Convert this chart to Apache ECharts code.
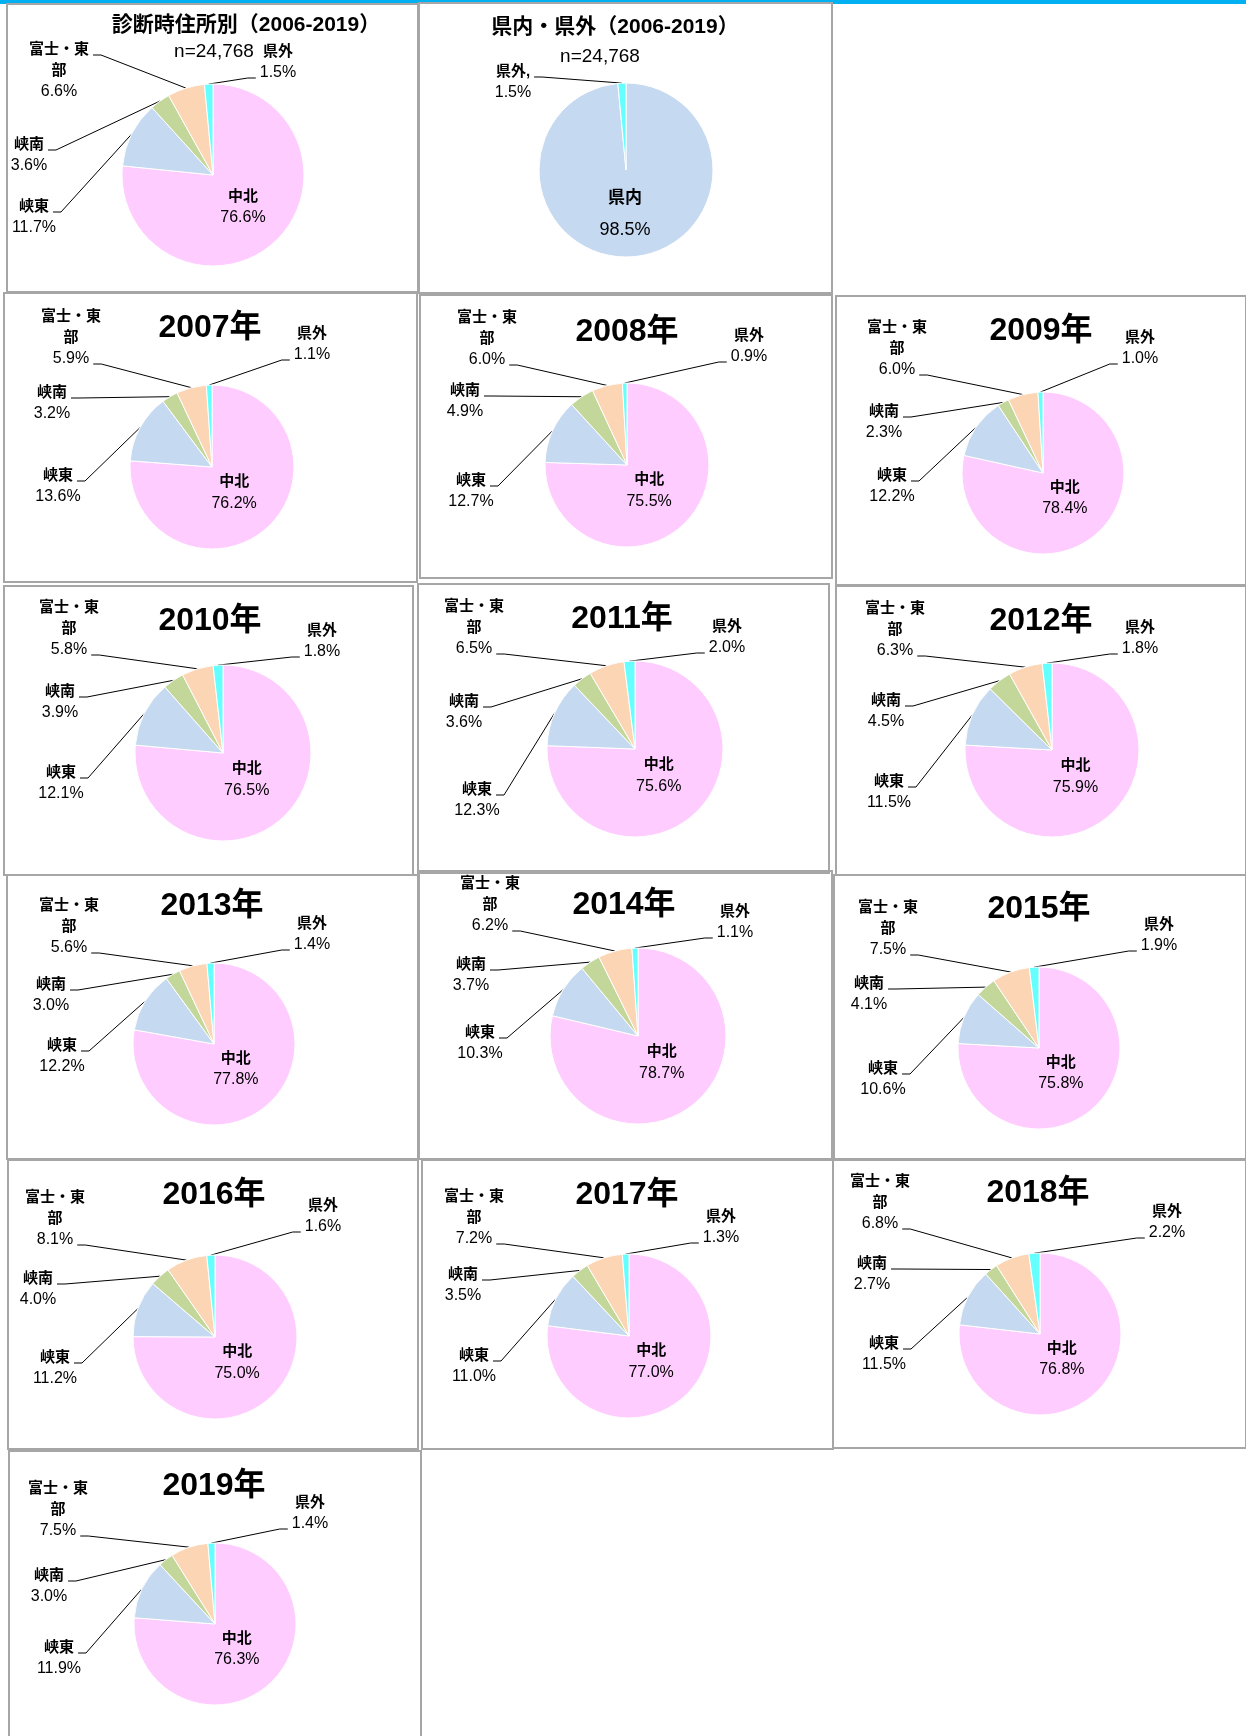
<!DOCTYPE html>
<html>
<head>
<meta charset="utf-8">
<script src="https://cdn.jsdelivr.net/npm/echarts@6/dist/echarts.min.js"></script>
<style>
html, body { margin: 0; padding: 0; background: #fff; }
#main { width: 1246px; height: 1736px; }
</style>
</head>
<body>
<div id="main"></div>
<script>
var FONT = "'Liberation Sans', Arial, 'Noto Sans CJK JP', sans-serif";

// regions, drawn clockwise from 12 o'clock
var names = ['中北', '峡東', '峡南', '富士・東部', '県外'];
var colors = ['#FFCCFF', '#C5D9F1', '#C4D79B', '#FCD5B4', '#66FFFF'];
var years = ['2007年', '2008年', '2009年', '2010年', '2011年', '2012年', '2013年',
             '2014年', '2015年', '2016年', '2017年', '2018年', '2019年'];
var chuhoku  = [76.2, 75.5, 78.4, 76.5, 75.6, 75.9, 77.8, 78.7, 75.8, 75.0, 77.0, 76.8, 76.3];
var kyoto    = [13.6, 12.7, 12.2, 12.1, 12.3, 11.5, 12.2, 10.3, 10.6, 11.2, 11.0, 11.5, 11.9];
var kyonan   = [3.2, 4.9, 2.3, 3.9, 3.6, 4.5, 3.0, 3.7, 4.1, 4.0, 3.5, 2.7, 3.0];
var fujiTobu = [5.9, 6.0, 6.0, 5.8, 6.5, 6.3, 5.6, 6.2, 7.5, 8.1, 7.2, 6.8, 7.5];
var kengai   = [1.1, 0.9, 1.0, 1.8, 2.0, 1.8, 1.4, 1.1, 1.9, 1.6, 1.3, 2.2, 1.4];
// whole period 2006-2019
var totalVals = [76.6, 11.7, 3.6, 6.6, 1.5];
var inOutNames = ['県内', '県外'];
var inOutColors = ['#C5D9F1', '#66FFFF'];
var inOutVals = [98.5, 1.5];
var nText = 'n=24,768';

// frames [x,y,w,h], pie centre/radius, title centre, label anchors (centre of first text line)
// lab order: 峡東, 峡南, 富士・東部, 県外
var yearPanels = [
  {box: [4, 293, 413, 289],    c: [212, 467],   r: 82, t: [210, 328],  lab: [[58, 476], [52, 393], [71, 317], [312, 334]]},
  {box: [420, 295, 412, 283],  c: [627, 465],   r: 82, t: [627, 332],  lab: [[471, 481], [465, 391], [487, 318], [749, 336]]},
  {box: [836, 296, 410, 289],  c: [1043, 473],  r: 81, t: [1041, 331], lab: [[892, 476], [884, 412], [897, 328], [1140, 338]]},
  {box: [4, 586, 409, 289],    c: [223, 753],   r: 88, t: [210, 621],  lab: [[61, 773], [60, 692], [69, 608], [322, 631]]},
  {box: [418, 584, 411, 289],  c: [635, 749],   r: 88, t: [622, 619],  lab: [[477, 790], [464, 702], [474, 607], [727, 627]]},
  {box: [836, 586, 410, 289],  c: [1052, 750],  r: 87, t: [1041, 621], lab: [[889, 782], [886, 701], [895, 609], [1140, 628]]},
  {box: [7, 875, 411, 284],    c: [214, 1044],  r: 81, t: [212, 906],  lab: [[62, 1046], [51, 985], [69, 906], [312, 924]]},
  {box: [419, 871, 413, 288],  c: [638, 1036],  r: 88, t: [624, 905],  lab: [[480, 1033], [471, 965], [490, 884], [735, 912]]},
  {box: [834, 875, 412, 284],  c: [1039, 1048], r: 81, t: [1039, 909], lab: [[883, 1069], [869, 984], [888, 908], [1159, 925]]},
  {box: [8, 1160, 410, 289],   c: [215, 1337],  r: 82, t: [214, 1195], lab: [[55, 1358], [38, 1279], [55, 1198], [323, 1206]]},
  {box: [422, 1160, 411, 289], c: [629, 1336],  r: 82, t: [627, 1195], lab: [[474, 1356], [463, 1275], [474, 1197], [721, 1217]]},
  {box: [833, 1160, 413, 288], c: [1040, 1334], r: 81, t: [1038, 1193], lab: [[884, 1344], [872, 1264], [880, 1182], [1167, 1212]]},
  {box: [9, 1451, 412, 290],   c: [215, 1624],  r: 81, t: [214, 1486], lab: [[59, 1648], [49, 1576], [58, 1489], [310, 1503]]}
];

var smallTxt = {n: 'n', p: 'p', nf: 15, pf: 16, lh: 21};
var bigTxt = {n: 'N', p: 'P', nf: 17, pf: 18, lh: 32};
var rich = {
  n: {fontFamily: FONT, fontWeight: 'bold', fontSize: 15, lineHeight: 21, color: '#000', align: 'center'},
  p: {fontFamily: FONT, fontSize: 16, lineHeight: 21, color: '#000', align: 'center'},
  N: {fontFamily: FONT, fontWeight: 'bold', fontSize: 17, lineHeight: 32, color: '#000', align: 'center'},
  P: {fontFamily: FONT, fontSize: 18, lineHeight: 32, color: '#000', align: 'center'}
};

var ctx = document.createElement('canvas').getContext('2d');
function textW(str, font) {
  ctx.font = font;
  return ctx.measureText(str).width;
}

// lab items: [x, y, side('in'|'L'|'R'), line the leader attaches to, text size]
function buildPie(c, r, nms, vals, cols, lab, sep) {
  var spec = [];
  var data = [];
  vals.forEach(function (v, i) {
    var a = lab[i];
    var f = a[4] || smallTxt;
    var inside = a[2] === 'in';
    var nameLines = nms[i] === '富士・東部' ? ['富士・東', '部'] : [nms[i] + (inside ? '' : (sep || ''))];
    var pct = v.toFixed(1) + '%';
    var fmt = nameLines.map(function (t) { return '{' + f.n + '|' + t + '}'; }).join('\n') +
      '\n{' + f.p + '|' + pct + '}';
    spec.push({x: a[0], y: a[1], side: a[2], line: a[3] || 0, lines: nameLines.concat([pct]), nc: nameLines.length, f: f});
    data.push({
      name: nms[i], value: v,
      itemStyle: {color: cols[i]},
      label: {position: inside ? 'inside' : 'outside', formatter: function () { return fmt; }},
      labelLine: {show: !inside}
    });
  });
  return {
    type: 'pie',
    center: c,
    radius: r,
    startAngle: 90,
    clockwise: true,
    avoidLabelOverlap: false,
    silent: true,
    animation: false,
    itemStyle: {borderColor: '#fff', borderWidth: 1},
    label: {show: true, color: '#000', fontFamily: FONT, rich: rich},
    labelLine: {show: true, length: 10, length2: 8, smooth: false, lineStyle: {color: '#000', width: 1}},
    labelLayout: function (prm) {
      var s = spec[prm.dataIndex];
      if (!s) return {};
      var top = s.y - s.f.lh / 2;
      var out = {x: s.x, y: top, align: 'center', verticalAlign: 'top'};
      if (s.side !== 'in' && prm.labelLinePoints) {
        var isPct = s.line >= s.nc;
        var w = textW(s.lines[s.line], (isPct ? '' : 'bold ') + (isPct ? s.f.pf : s.f.nf) + 'px ' + FONT);
        var ay = top + s.line * s.f.lh + s.f.lh / 2 + 5;
        var dir = s.side === 'L' ? 1 : -1;
        var x2 = s.x + dir * (w / 2 + 4);
        out.labelLinePoints = [prm.labelLinePoints[0], [x2 + dir * 8, ay], [x2, ay]];
      }
      return out;
    },
    data: data
  };
}

var series = [];
var graphic = [{type: 'rect', shape: {x: 0, y: 0, width: 1246, height: 4}, style: {fill: '#00B0F0'}, silent: true}];

function frame(b) {
  graphic.push({type: 'rect', shape: {x: b[0], y: b[1], width: b[2], height: b[3]},
    style: {fill: null, stroke: '#A6A6A6', lineWidth: 2}, silent: true});
}
function txt(s, x, y, font) {
  graphic.push({type: 'text', x: x, y: y, silent: true,
    style: {text: s, font: font, fill: '#000', align: 'center', verticalAlign: 'middle',
            textAlign: 'center', textVerticalAlign: 'middle'}});
}

// panel: all years, by region
frame([7, 4, 411, 288]);
txt('診断時住所別（2006-2019）', 246, 25, 'bold 21px ' + FONT);
txt(nText, 214, 52, '19px ' + FONT);
series.push(buildPie([213, 175], 91, names, totalVals, colors, [
  [243, 197, 'in'], [34, 207, 'L', 0], [29, 145, 'L', 0], [59, 50, 'L', 0], [278, 52, 'R', 1]
]));

// panel: in / out of prefecture
frame([419, 3, 413, 290]);
txt('県内・県外（2006-2019）', 615, 27, 'bold 21px ' + FONT);
txt(nText, 600, 57, '19px ' + FONT);
series.push(buildPie([626, 170], 87, inOutNames, inOutVals, inOutColors, [
  [625, 198, 'in', 0, bigTxt], [513, 72, 'L', 0]
], ','));

// one panel per year
yearPanels.forEach(function (p, k) {
  frame(p.box);
  txt(years[k], p.t[0], p.t[1], 'bold 32px ' + FONT);
  var vals = [chuhoku[k], kyoto[k], kyonan[k], fujiTobu[k], kengai[k]];
  var lab = [
    [p.c[0] + 0.27 * p.r, p.c[1] + 0.185 * p.r, 'in'],
    [p.lab[0][0], p.lab[0][1], 'L', 0],
    [p.lab[1][0], p.lab[1][1], 'L', 0],
    [p.lab[2][0], p.lab[2][1], 'L', 2],
    [p.lab[3][0], p.lab[3][1], 'R', 1]
  ];
  series.push(buildPie(p.c, p.r, names, vals, colors, lab));
});

var chart = echarts.init(document.getElementById('main'), null, {renderer: 'canvas'});
chart.setOption({
  backgroundColor: '#fff',
  animation: false,
  graphic: graphic,
  series: series
});
</script>
</body>
</html>
